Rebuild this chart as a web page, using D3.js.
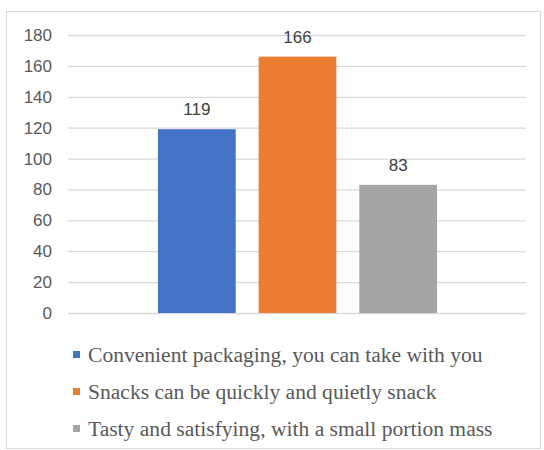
<!DOCTYPE html>
<html>
<head>
<meta charset="utf-8">
<script src="https://cdn.jsdelivr.net/npm/d3@7"></script>
<style>
  html, body { margin: 0; padding: 0; background: #fff; }
  svg { display: block; }
</style>
</head>
<body>
<svg id="chart" width="544" height="450"></svg>
<script>
// Survey answers: one bar per reason
const seriesNames = [
  "Convenient packaging, you can take with you",
  "Snacks can be quickly and quietly snack",
  "Tasty and satisfying, with a small portion mass"
];
const seriesValues = [119, 166, 83];
const seriesColors = ["#4472c4", "#ed7d31", "#a5a5a5"];
const yTicks = [0, 20, 40, 60, 80, 100, 120, 140, 160, 180];

const svg = d3.select("#chart");

// Outer chart frame
svg.append("rect")
  .attr("x", 6.5).attr("y", 11.5)
  .attr("width", 534).attr("height", 437)
  .attr("fill", "#fff")
  .attr("stroke", "#d9d9d9")
  .attr("stroke-width", 1);

const plot = { left: 68, right: 526, top: 35, bottom: 313 };

const y = d3.scaleLinear()
  .domain([0, 180])
  .range([plot.bottom, plot.top]);

// Bars sit in the middle of the plot, as one clustered category
const x = d3.scaleBand()
  .domain(seriesNames)
  .range([146.5, 448.5])
  .paddingInner(0.228)
  .paddingOuter(0.114);

// Gridlines and value axis labels
const yAxis = d3.axisLeft(y)
  .tickValues(yTicks)
  .tickSize(-(plot.right - plot.left))
  .tickPadding(16);

const gAxis = svg.append("g")
  .attr("transform", `translate(${plot.left},0)`)
  .call(yAxis);
gAxis.select(".domain").remove();
gAxis.selectAll(".tick line")
  .attr("stroke", "#d9d9d9")
  .attr("stroke-width", 1.3);
gAxis.selectAll(".tick text")
  .attr("fill", "#595959")
  .style("font-family", "'Liberation Sans', Arial, sans-serif")
  .style("font-size", "17px");

// Bars
svg.append("g").selectAll("rect")
  .data(seriesValues)
  .join("rect")
  .attr("x", (d, i) => x(seriesNames[i]))
  .attr("y", d => y(d))
  .attr("width", x.bandwidth())
  .attr("height", d => y(0) - y(d))
  .attr("fill", (d, i) => seriesColors[i]);

// Value labels above the bars
svg.append("g").selectAll("text")
  .data(seriesValues)
  .join("text")
  .attr("x", (d, i) => x(seriesNames[i]) + x.bandwidth() / 2)
  .attr("y", d => y(d) - 14)
  .attr("text-anchor", "middle")
  .attr("fill", "#404040")
  .style("font-family", "'Liberation Sans', Arial, sans-serif")
  .style("font-size", "17px")
  .text(d => d);

// Legend (serif text, slightly widened)
const legend = svg.append("g");
const rowY = [355, 392, 429];
seriesNames.forEach((name, i) => {
  legend.append("rect")
    .attr("x", 73).attr("y", rowY[i] - 4)
    .attr("width", 7).attr("height", 7)
    .attr("fill", seriesColors[i]);
  const t = legend.append("text")
    .attr("x", 88).attr("y", rowY[i])
    .attr("dy", "0.35em")
    .attr("fill", "#595959")
    .style("font-family", "'Liberation Serif', 'Times New Roman', serif")
    .style("font-size", "20px")
    .text(name);
  const w = t.node().getComputedTextLength();
  t.attr("textLength", w * 1.078).attr("lengthAdjust", "spacingAndGlyphs");
});
</script>
</body>
</html>
